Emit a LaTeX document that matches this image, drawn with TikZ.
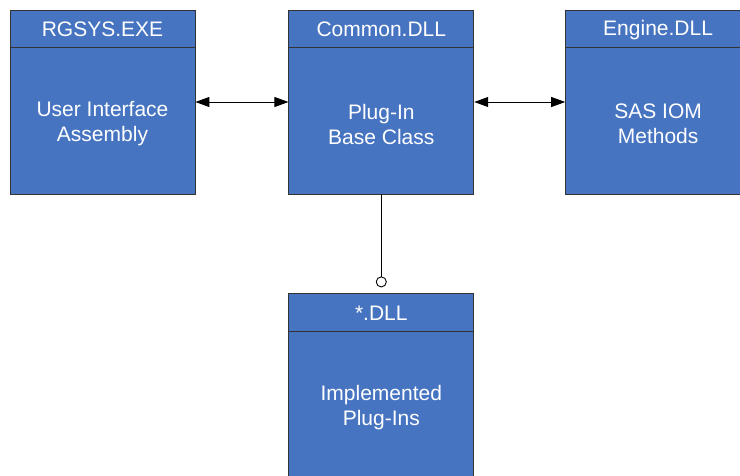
\documentclass[tikz,border=0pt]{standalone}
\usepackage{fontspec}
\setmainfont{Liberation Sans}
\usepackage{xcolor}
\usetikzlibrary{arrows.meta,positioning}
\definecolor{modblue}{RGB}{70,116,193}
\tikzset{
  modbox/.style={
    rectangle,
    draw=black!80,
    line width=0.8pt,
    fill=modblue,
    minimum width=185pt,
    minimum height=184pt,
    inner sep=0pt
  },
  headtext/.style={
    text=white,
    font=\fontsize{21}{25}\selectfont,
    inner sep=0pt
  },
  bodytext/.style={
    text=white,
    align=center,
    font=\fontsize{21}{25}\selectfont,
    inner sep=0pt
  },
  call/.style={{Triangle[length=14pt,width=10pt]}-{Triangle[length=14pt,width=10pt]}, line width=0.9pt, black},
  socket/.style={-{Circle[open,length=11pt,width=11pt,line width=0.9pt]}, line width=0.9pt, black, shorten >=6pt}
}
% draws the header rule and both labels of a module box
\newcommand{\modlabels}[3]{%
  \draw[draw=black!80, line width=0.8pt] ([yshift=-38pt]#1.north west) -- ([yshift=-38pt]#1.north east);
  \node[headtext] (#1-head) at ([yshift=-20pt]#1.north) {#2};
  \node[bodytext] (#1-body) at ([yshift=-22pt]#1.center) {#3};
}

\begin{document}
\begin{tikzpicture}[x=1pt,y=-1pt]
\useasboundingbox (0,0) rectangle (740,476);
\clip (0,0) rectangle (740,476);
\fill[white] (0,0) rectangle (740,476);
\node[modbox] (rgsys) at (102.5,102) {};
\node[modbox, right=93pt of rgsys] (common) {};
\node[modbox, right=91pt of common] (engine) {};
\node[modbox, below=99pt of common] (plugins) {};
\modlabels{rgsys}{RGSYS.EXE}{User Interface\\Assembly}
\modlabels{common}{Common.DLL}{Plug-In\\Base Class}
\modlabels{engine}{Engine.DLL}{SAS IOM\\Methods}
\modlabels{plugins}{*.DLL}{Implemented\\Plug-Ins}
\draw[call] (rgsys) -- (common);
\draw[call] (common) -- (engine);
\draw[socket] (common) -- (plugins);
\end{tikzpicture}
\end{document}
